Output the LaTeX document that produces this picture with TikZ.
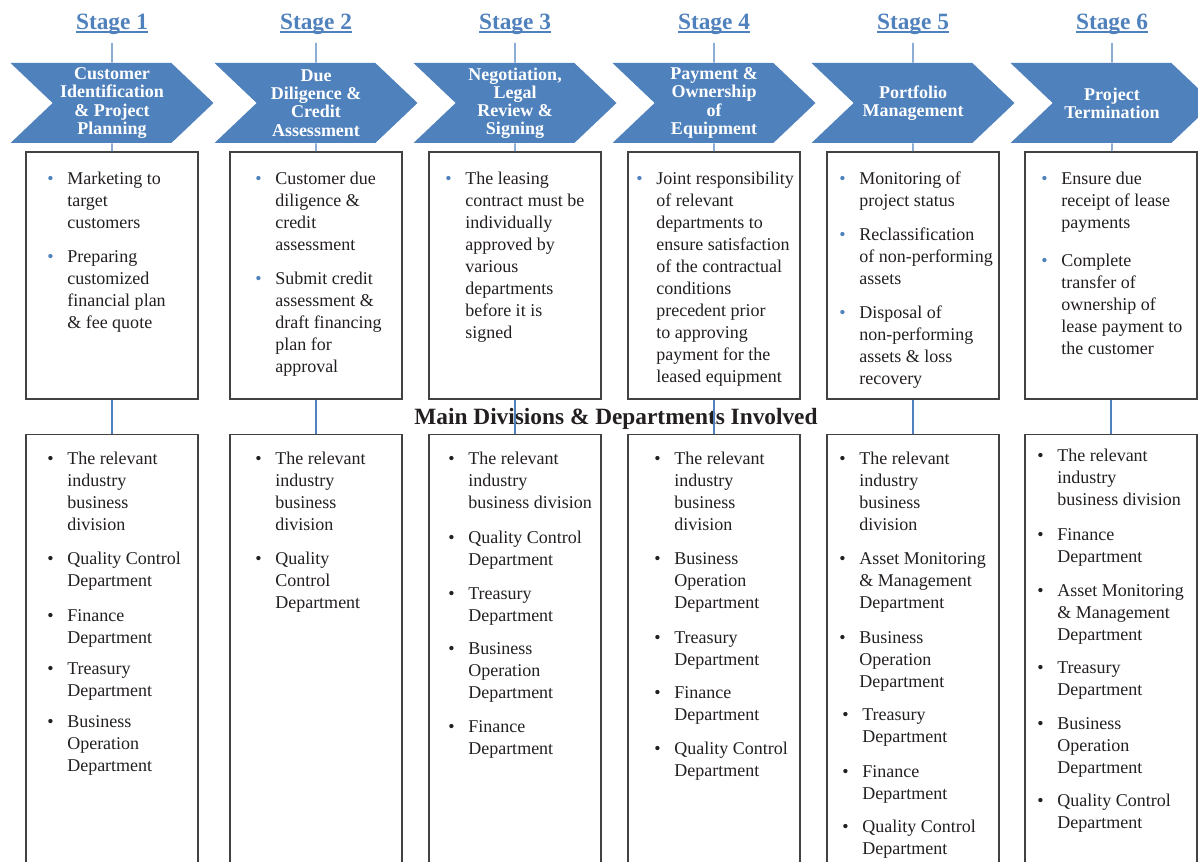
\documentclass[tikz,border=0pt]{standalone}
\usepackage{fontspec}
\setmainfont{Liberation Serif}
\usetikzlibrary{shapes.symbols}
\definecolor{stageblue}{RGB}{79,129,189}
\definecolor{inkgray}{RGB}{35,31,32}
% bullet item: hanging bullet, lines stacked in a top-aligned tabular
\newcommand\itm[2]{\llap{\makebox[15pt][l]{\textcolor{#1}{\textbullet}}}\begin{tabular}[t]{@{}l@{}}#2\end{tabular}}

\begin{document}
\begin{tikzpicture}[x=0.75pt, y=-0.75pt]
    \tikzstyle{head} = [inner sep=0, anchor=base, text=stageblue, font=\fontsize{17.5}{20}\selectfont\bfseries]
    \tikzstyle{chev} = [signal, signal to=east, signal from=west, signal pointer angle=87, fill=stageblue, minimum width=152.25pt, minimum height=60pt, inner sep=0, text=white, align=center, font=\fontsize{13.5}{13.6}\selectfont\bfseries]
    \tikzstyle{upbox} = [rectangle, draw=inkgray!85, line width=0.9pt, minimum width=129pt, minimum height=185.25pt]
    \tikzstyle{lowbox} = [upbox, minimum height=360pt, anchor=north]
    \tikzstyle{item} = [inner sep=0, anchor=base west, text=inkgray, font=\fontsize{13.5}{16.5}\selectfont]
    \tikzstyle{title} = [inner sep=0, anchor=base, text=inkgray, font=\fontsize{17.5}{20}\selectfont\bfseries]
    \tikzstyle{link} = [draw=stageblue, line width=0.8pt]
    \tikzstyle{uline} = [stageblue, line width=1pt]

    \useasboundingbox (0,0) rectangle (1198,862);
    \clip (0,0) rectangle (1198,862);

    % stage headings
    \node [head] (h1) at (112,29.5) {Stage 1};
    \node [head] (h2) at (316,29.5) {Stage 2};
    \node [head] (h3) at (515,29.5) {Stage 3};
    \node [head] (h4) at (714,29.5) {Stage 4};
    \node [head] (h5) at (913,29.5) {Stage 5};
    \node [head] (h6) at (1112,29.5) {Stage 6};
    \draw [uline] ([yshift=-2pt]h1.base west) -- ([yshift=-2pt]h1.base east);
    \draw [uline] ([yshift=-2pt]h2.base west) -- ([yshift=-2pt]h2.base east);
    \draw [uline] ([yshift=-2pt]h3.base west) -- ([yshift=-2pt]h3.base east);
    \draw [uline] ([yshift=-2pt]h4.base west) -- ([yshift=-2pt]h4.base east);
    \draw [uline] ([yshift=-2pt]h5.base west) -- ([yshift=-2pt]h5.base east);
    \draw [uline] ([yshift=-2pt]h6.base west) -- ([yshift=-2pt]h6.base east);

    % chevrons
    \node [chev] (c1) at (112,103) {Customer\\Identification\\\& Project\\Planning};
    \node [chev] (c2) at (316,103) {Due\\Diligence \&\\Credit\\Assessment};
    \node [chev] (c3) at (515,103) {Negotiation,\\Legal\\Review \&\\Signing};
    \node [chev] (c4) at (714,103) {Payment \&\\Ownership\\of\\Equipment};
    \node [chev] (c5) at (913,103) {Portfolio\\Management};
    \node [chev] (c6) at (1112,103) {Project\\Termination};

    % activity boxes
    \node [upbox] (b1) at (112,275.5) {};
    \node [upbox] (b2) at (316,275.5) {};
    \node [upbox] (b3) at (515,275.5) {};
    \node [upbox] (b4) at (714,275.5) {};
    \node [upbox] (b5) at (913,275.5) {};
    \node [upbox] (b6) at (1111,275.5) {};

    \node [item] (b1a) at (67,185) {\itm{stageblue}{Marketing to\\target\\customers}};
    \node [item] (b1b) at (67,263) {\itm{stageblue}{Preparing\\customized\\financial plan\\\& fee quote}};
    \node [item] (b2a) at (275,185) {\itm{stageblue}{Customer due\\diligence \&\\credit\\assessment}};
    \node [item] (b2b) at (275,285) {\itm{stageblue}{Submit credit\\assessment \&\\draft financing\\plan for\\approval}};
    \node [item] (b3a) at (465,185) {\itm{stageblue}{The leasing\\contract must be\\individually\\approved by\\various\\departments\\before it is\\signed}};
    \node [item] (b4a) at (656,185) {\itm{stageblue}{Joint responsibility\\of relevant\\departments to\\ensure satisfaction\\of the contractual\\conditions\\precedent prior\\to approving\\payment for the\\leased equipment}};
    \node [item] (b5a) at (859,185) {\itm{stageblue}{Monitoring of\\project status}};
    \node [item] (b5b) at (859,241) {\itm{stageblue}{Reclassification\\of non-performing\\assets}};
    \node [item] (b5c) at (859,319) {\itm{stageblue}{Disposal of\\non-performing\\assets \& loss\\recovery}};
    \node [item] (b6a) at (1061,185) {\itm{stageblue}{Ensure due\\receipt of lease\\payments}};
    \node [item] (b6b) at (1061,267) {\itm{stageblue}{Complete\\transfer of\\ownership of\\lease payment to\\the customer}};

    \node [title] (main) at (616,425) {Main Divisions \& Departments Involved};

    % departments boxes
    \node [lowbox] (d1) at (112,434) {};
    \node [lowbox] (d2) at (316,434) {};
    \node [lowbox] (d3) at (515,434) {};
    \node [lowbox] (d4) at (714,434) {};
    \node [lowbox] (d5) at (913,434) {};
    \node [lowbox] (d6) at (1111,434) {};

    \node [item] (d1a) at (67,464) {\itm{inkgray}{The relevant\\industry\\business\\division}};
    \node [item] (d1b) at (67,564) {\itm{inkgray}{Quality Control\\Department}};
    \node [item] (d1c) at (67,621) {\itm{inkgray}{Finance\\Department}};
    \node [item] (d1d) at (67,674) {\itm{inkgray}{Treasury\\Department}};
    \node [item] (d1e) at (67,727) {\itm{inkgray}{Business\\Operation\\Department}};

    \node [item] (d2a) at (275,464) {\itm{inkgray}{The relevant\\industry\\business\\division}};
    \node [item] (d2b) at (275,564) {\itm{inkgray}{Quality\\Control\\Department}};

    \node [item] (d3a) at (468,464) {\itm{inkgray}{The relevant\\industry\\business division}};
    \node [item] (d3b) at (468,543) {\itm{inkgray}{Quality Control\\Department}};
    \node [item] (d3c) at (468,599) {\itm{inkgray}{Treasury\\Department}};
    \node [item] (d3d) at (468,654) {\itm{inkgray}{Business\\Operation\\Department}};
    \node [item] (d3e) at (468,732) {\itm{inkgray}{Finance\\Department}};

    \node [item] (d4a) at (674,464) {\itm{inkgray}{The relevant\\industry\\business\\division}};
    \node [item] (d4b) at (674,564) {\itm{inkgray}{Business\\Operation\\Department}};
    \node [item] (d4c) at (674,643) {\itm{inkgray}{Treasury\\Department}};
    \node [item] (d4d) at (674,698) {\itm{inkgray}{Finance\\Department}};
    \node [item] (d4e) at (674,754) {\itm{inkgray}{Quality Control\\Department}};

    \node [item] (d5a) at (859,464) {\itm{inkgray}{The relevant\\industry\\business\\division}};
    \node [item] (d5b) at (859,564) {\itm{inkgray}{Asset Monitoring\\\& Management\\Department}};
    \node [item] (d5c) at (859,643) {\itm{inkgray}{Business\\Operation\\Department}};
    \node [item] (d5d) at (862,720) {\itm{inkgray}{Treasury\\Department}};
    \node [item] (d5e) at (862,777) {\itm{inkgray}{Finance\\Department}};
    \node [item] (d5f) at (862,832) {\itm{inkgray}{Quality Control\\Department}};

    \node [item] (d6a) at (1057,461) {\itm{inkgray}{The relevant\\industry\\business division}};
    \node [item] (d6b) at (1057,540) {\itm{inkgray}{Finance\\Department}};
    \node [item] (d6c) at (1057,596) {\itm{inkgray}{Asset Monitoring\\\& Management\\Department}};
    \node [item] (d6d) at (1057,673) {\itm{inkgray}{Treasury\\Department}};
    \node [item] (d6e) at (1057,729) {\itm{inkgray}{Business\\Operation\\Department}};
    \node [item] (d6f) at (1057,806) {\itm{inkgray}{Quality Control\\Department}};

    % connecting lines
    \draw [link, shorten <=6pt] (h1) -- (c1);
    \draw [link, shorten <=6pt] (h2) -- (c2);
    \draw [link, shorten <=6pt] (h3) -- (c3);
    \draw [link, shorten <=6pt] (h4) -- (c4);
    \draw [link, shorten <=6pt] (h5) -- (c5);
    \draw [link, shorten <=6pt] (h6) -- (c6);
    \draw [link] (c1) -- (b1);
    \draw [link] (c2) -- (b2);
    \draw [link] (c3) -- (b3);
    \draw [link] (c4) -- (b4);
    \draw [link] (c5) -- (b5);
    \draw [link] (c6.south) -- (b6);
    \draw [link] (b1) -- (d1);
    \draw [link] (b2) -- (d2);
    \draw [link] (b3) -- (d3);
    \draw [link] (b4) -- (d4);
    \draw [link] (b5) -- (d5);
    \draw [link] (b6) -- (d6);
\end{tikzpicture}
\end{document}
